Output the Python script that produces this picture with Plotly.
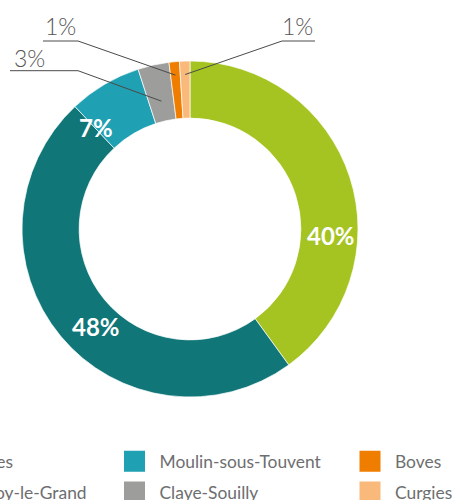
import plotly.graph_objects as go
import numpy as np

# ---- data ----
sites = ["Hermes", "Fresnoy-le-Grand", "Moulin-sous-Touvent", "Claye-Souilly", "Boves", "Curgies"]
shares = [40, 48, 7, 3, 1, 1]
colors = ["#a5c422", "#107677", "#1fa0b3", "#9d9d9c", "#ef7d00", "#f8b97b"]

# ---- style / layout ----
W, H = 456, 500
CX, CY, R = 190, 229, 168
HOLE = 0.66

def px(x):
    return x / W

def py(y):
    return 1 - y / H

fig = go.Figure()
fig.add_trace(go.Pie(
    labels=sites, values=shares, sort=False, direction="clockwise", rotation=0,
    hole=HOLE, textinfo="none", showlegend=False, hoverinfo="label+percent",
    marker=dict(colors=colors, line=dict(color="white", width=0.7)),
    domain=dict(x=[px(CX - R), px(CX + R)], y=[py(CY + R), py(CY - R)]),
))

# legend entries (3 columns x 2 rows, column-major)
legend_of = ["legend", "legend", "legend2", "legend2", "legend3", "legend3"]
for name, c, lg in zip(sites, colors, legend_of):
    fig.add_trace(go.Scatter(
        x=[None], y=[None], mode="markers", name=name, legend=lg, legendgroup=name,
        marker=dict(symbol="square", size=16, color=c, line=dict(color=c, width=5)),
        hoverinfo="skip", showlegend=True,
    ))

# percent labels
inside_idx = [0, 1, 2]
inside_pos = [(331, 235), (96, 326), (96, 127)]
for i, (x, y) in zip(inside_idx, inside_pos):
    fig.add_annotation(x=px(x), y=py(y), xref="paper", yref="paper", showarrow=False,
                       text=f"{shares[i]}%", xanchor="center", yanchor="middle",
                       font=dict(family="Lato", size=24, color="white", weight="bold"))

# outside labels with leader lines
out_idx = [3, 4, 5]
anchor_r = [0.78, 0.92, 0.92]
elbow = [(78, 70.7), (78, 41), (282, 41)]
line_end = [(10, 70.7), (43, 41), (315, 41)]
text_pos = [(12, 58), (43, 26), (315, 26)]
text_anchor = ["left", "left", "right"]
total = sum(shares)
cum = np.cumsum([0] + shares)
for k, i in enumerate(out_idx):
    mid = (cum[i] + shares[i] / 2) / total * 2 * np.pi
    ax = CX + anchor_r[k] * R * np.sin(mid)
    ay = CY - anchor_r[k] * R * np.cos(mid)
    ex, ey = elbow[k]
    lx, ly = line_end[k]
    fig.add_shape(type="path", xref="paper", yref="paper",
                  path=f"M {px(ax)} {py(ay)} L {px(ex)} {py(ey)} L {px(lx)} {py(ly)}",
                  line=dict(color="#4a4a4a", width=1))
    tx, ty = text_pos[k]
    fig.add_annotation(x=px(tx), y=py(ty), xref="paper", yref="paper", showarrow=False,
                       text=f"{shares[i]}%", xanchor=text_anchor[k], yanchor="middle",
                       font=dict(family="Lato", size=23, color="#555555", weight=300))

leg_common = dict(orientation="v", xanchor="left", yanchor="top", itemwidth=40,
                  traceorder="grouped", tracegroupgap=5, bgcolor="rgba(0,0,0,0)",
                  font=dict(family="Lato", size=17.4, color="#6d6e70"))
LEG_TOP = 443.5
fig.update_layout(
    width=W, height=H,
    margin=dict(l=0, r=0, t=0, b=0, autoexpand=False),
    paper_bgcolor="white", plot_bgcolor="white",
    xaxis=dict(visible=False), yaxis=dict(visible=False),
    legend=dict(x=px(-96.5), y=py(LEG_TOP), **leg_common),
    legend2=dict(x=px(109.5), y=py(LEG_TOP), **leg_common),
    legend3=dict(x=px(107 + 238), y=py(LEG_TOP), **leg_common),
)

fig.write_html("out.html", config={"displayModeBar": False},
               post_script="document.body.style.margin='0';")
